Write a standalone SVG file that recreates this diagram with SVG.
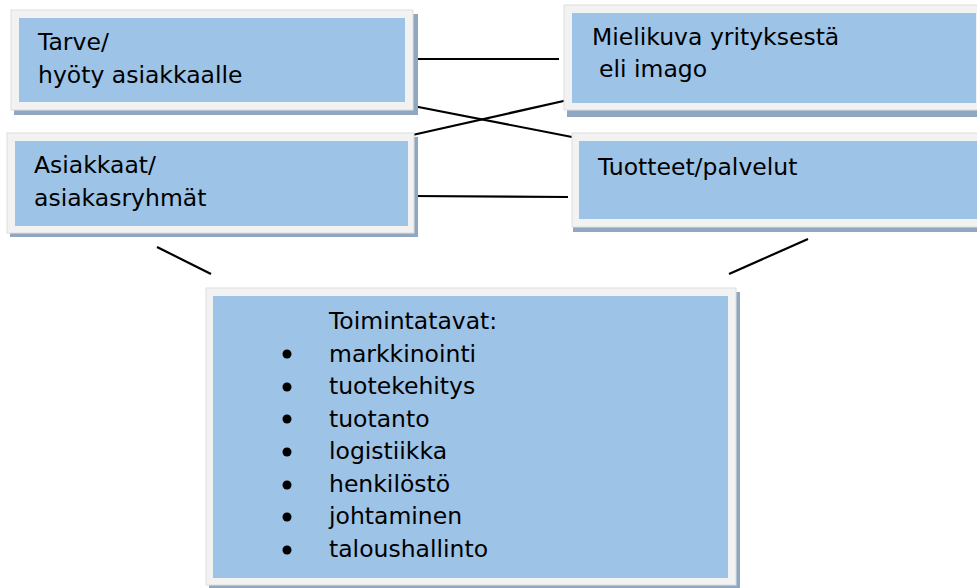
<svg xmlns="http://www.w3.org/2000/svg" width="977" height="588" viewBox="0 0 977 588">
<style>
.sh{fill:#8fa7c1}
.fr{fill:#f2f2f2;stroke:#dedede;stroke-width:1}
.bl{fill:#9dc3e6}
.t{font-family:"DejaVu Sans",Verdana,sans-serif;font-size:23.5px;fill:#000}
.c{stroke:#000;stroke-width:2.2;fill:none}
</style>
<rect width="977" height="588" fill="#fff"/>
<g id="connectors">
<line class="c" x1="408" y1="59" x2="559" y2="59"/>
<line class="c" x1="403" y1="104" x2="572" y2="137"/>
<line class="c" x1="408" y1="136" x2="568" y2="100"/>
<line class="c" x1="411" y1="196" x2="568" y2="197"/>
<line class="c" x1="157" y1="247" x2="211" y2="274"/>
<line class="c" x1="729" y1="274" x2="808" y2="239"/>
</g>
<g id="tarve">
<rect class="sh" x="14" y="14" width="404" height="101"/>
<rect class="fr" x="11" y="10" width="402" height="100"/>
<rect class="bl" x="19" y="18" width="386" height="84"/>
<text class="t" x="38" y="50">Tarve/</text>
<text class="t" x="38" y="83">hyöty asiakkaalle</text>
</g>
<g id="asiakkaat">
<rect class="sh" x="10" y="137" width="408" height="100"/>
<rect class="fr" x="7" y="133" width="407" height="100"/>
<rect class="bl" x="15" y="141" width="393" height="85"/>
<text class="t" x="34" y="173">Asiakkaat/</text>
<text class="t" x="34" y="206">asiakasryhmät</text>
</g>
<g id="mielikuva">
<rect class="sh" x="567" y="10" width="420" height="107"/>
<rect class="fr" x="564" y="5" width="420" height="105"/>
<rect class="bl" x="572" y="13" width="404" height="90"/>
<text class="t" x="592" y="45">Mielikuva yrityksestä</text>
<text class="t" x="599" y="77">eli imago</text>
</g>
<g id="tuotteet">
<rect class="sh" x="573" y="137" width="420" height="95"/>
<rect class="fr" x="572" y="133" width="420" height="94"/>
<rect class="bl" x="579" y="141" width="410" height="78"/>
<text class="t" x="598" y="175">Tuotteet/palvelut</text>
</g>
<g id="toimintatavat">
<rect class="sh" x="209" y="292" width="531" height="300"/>
<rect class="fr" x="206" y="288" width="530" height="297"/>
<rect class="bl" x="213" y="296" width="515" height="282"/>
<text class="t" x="329" y="329">Toimintatavat:</text>
<g fill="#000">
<circle cx="287" cy="354" r="4.5"/>
<circle cx="287" cy="387" r="4.5"/>
<circle cx="287" cy="419" r="4.5"/>
<circle cx="287" cy="452" r="4.5"/>
<circle cx="287" cy="485" r="4.5"/>
<circle cx="287" cy="517" r="4.5"/>
<circle cx="287" cy="550" r="4.5"/>
</g>
<text class="t" x="329" y="362">markkinointi</text>
<text class="t" x="329" y="394">tuotekehitys</text>
<text class="t" x="329" y="427">tuotanto</text>
<text class="t" x="329" y="459">logistiikka</text>
<text class="t" x="329" y="492">henkilöstö</text>
<text class="t" x="329" y="524">johtaminen</text>
<text class="t" x="329" y="557">taloushallinto</text>
</g>
</svg>
